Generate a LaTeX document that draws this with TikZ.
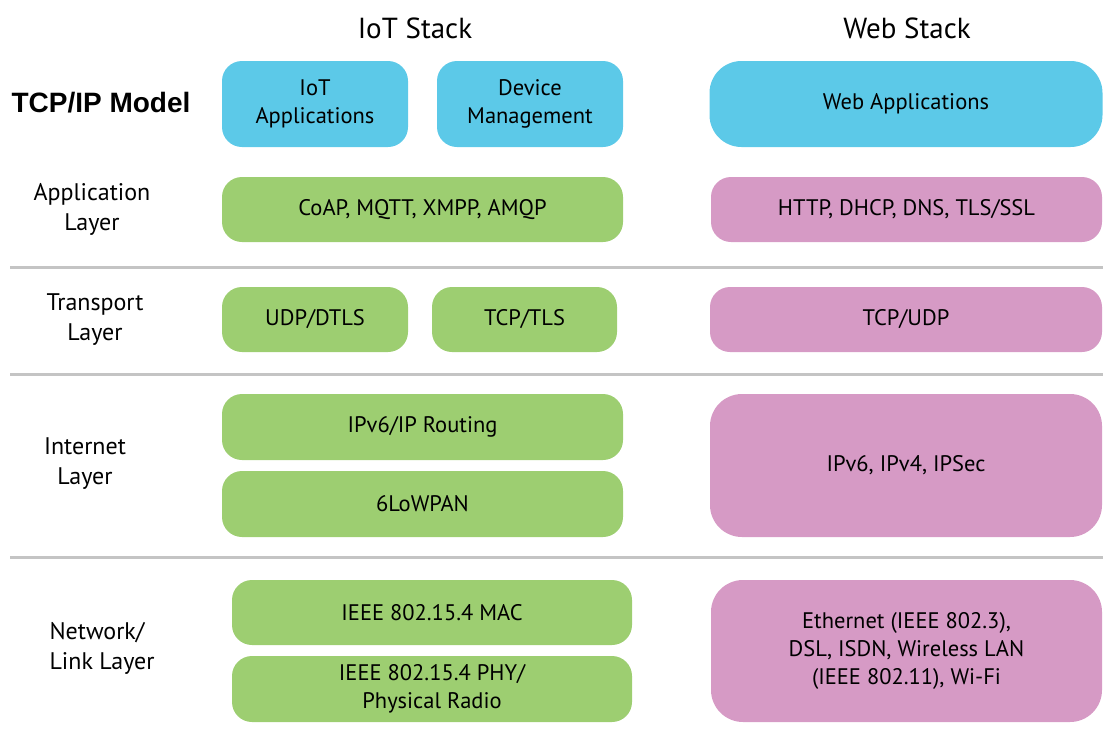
\documentclass[tikz,border=0pt]{standalone}
\usepackage{fontspec}
\setmainfont{PT Sans}
\newfontfamily\headfont{Liberation Sans}
\usepackage{tikz}
\usetikzlibrary{positioning}
\definecolor{iotblue}{HTML}{5CC9E8}
\definecolor{iotgreen}{HTML}{9DCE71}
\definecolor{webpink}{HTML}{D69AC5}
\definecolor{sepgray}{HTML}{C4C4C4}

\begin{document}
\begin{tikzpicture}[x=1pt, y=-1pt,
		box/.style={rounded corners=20pt, inner sep=0pt, align=center, text=black,
			font=\fontsize{22.5}{28}\selectfont},
		bigbox/.style={box, rounded corners=32pt},
		iot/.style={fill=iotgreen},
		app/.style={fill=iotblue},
		web/.style={fill=webpink},
		layername/.style={align=center, text=black, font=\fontsize{24}{30}\selectfont},
		stackname/.style={text=black, font=\fontsize{29}{34}\selectfont},
		sepline/.style={sepgray, line width=3pt}]
			\useasboundingbox (0,0) rectangle (1103,737);

			% column heads
			\node[stackname] (iothead) at (415,28) {IoT Stack};
			\node[stackname] (webhead) at (907,28) {Web Stack};
			\node[font=\headfont\bfseries\fontsize{28}{32}\selectfont] (model) at (101,103) {TCP/IP Model};

			% layer names
			\node[layername] (appl) at (92,209) {Application\\Layer};
			\node[layername] (trans) at (95,320) {Transport\\Layer};
			\node[layername] (inet) at (85,464) {Internet\\Layer};
			\node[layername, align=left, anchor=west] (link) at (46,648) {Network/\\Link Layer};

			% separators
			\draw[sepline] (10,267) -- (1103,267);
			\draw[sepline] (10,374) -- (1103,374);
			\draw[sepline] (10,557) -- (1103,557);

			% applications
			\node[box, app, minimum width=186, minimum height=86] (iotapp) at (315,104) {IoT\\Applications};
			\node[box, app, minimum width=186, minimum height=86] (devmgmt) at (530,104) {Device\\Management};
			\node[bigbox, app, minimum width=393, minimum height=86] (webapp) at (906,104) {Web Applications};

			% application layer
			\node[box, iot, minimum width=401, minimum height=65] (coap) at (422.5,209.5) {CoAP, MQTT, XMPP, AMQP};
			\node[box, web, minimum width=391, minimum height=65] (http) at (906.5,209.5) {HTTP, DHCP, DNS, TLS/SSL};

			% transport layer
			\node[box, iot, minimum width=186, minimum height=65] (udp) at (315,319.5) {UDP/DTLS};
			\node[box, iot, minimum width=185, minimum height=65] (tcptls) at (524.5,319.5) {TCP/TLS};
			\node[box, web, minimum width=392, minimum height=65] (tcpudp) at (906,319.5) {TCP/UDP};

			% internet layer
			\node[box, iot, minimum width=401, minimum height=66] (routing) at (422.5,427) {IPv6/IP Routing};
			\node[box, iot, minimum width=401, minimum height=66] (lowpan) at (422.5,504) {6LoWPAN};
			\node[bigbox, web, minimum width=392, minimum height=143] (ipsec) at (906,465.5) {IPv6, IPv4, IPSec};

			% network/link layer
			\node[box, iot, minimum width=400, minimum height=65] (mac) at (432,612.5) {IEEE 802.15.4 MAC};
			\node[box, iot, minimum width=400, minimum height=66] (phy) at (432,689) {IEEE 802.15.4 PHY/\\Physical Radio};
			\node[bigbox, web, minimum width=391, minimum height=142] (eth) at (906.5,651) {Ethernet (IEEE 802.3),\\DSL, ISDN, Wireless LAN\\(IEEE 802.11), Wi-Fi};
\end{tikzpicture}
\end{document}
